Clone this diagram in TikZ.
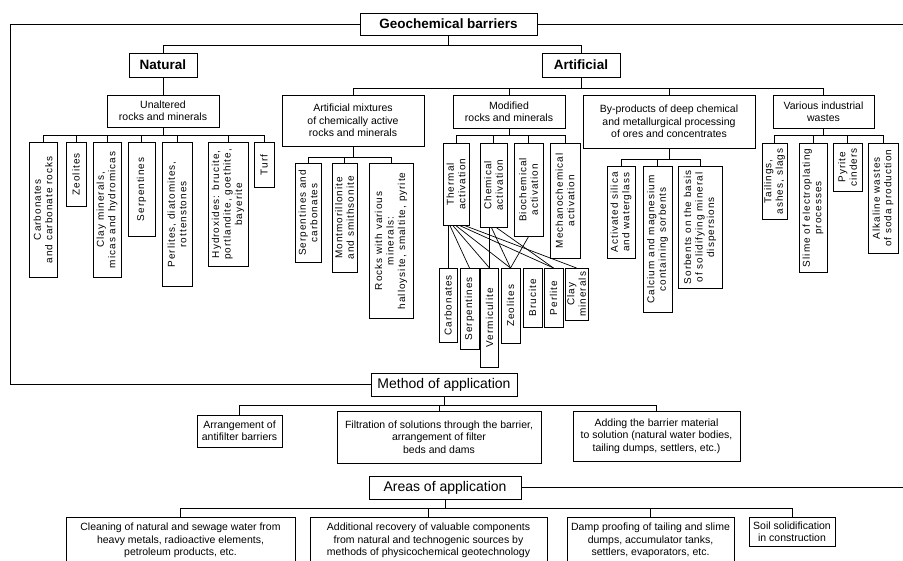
\documentclass[tikz,border=0pt]{standalone}
\usepackage{fontspec}
\setmainfont{Liberation Sans}
\newfontfamily\spaced[LetterSpace=10]{Liberation Sans}
\tikzstyle{frame} = [draw, align=center, inner sep=1pt, font=\fontsize{10.5}{12.5}\selectfont]
\tikzstyle{title} = [draw, inner sep=1pt, font=\bfseries\fontsize{13.5}{16}\selectfont]
\tikzstyle{plain} = [draw, inner sep=1pt, font=\fontsize{14}{16}\selectfont]
\tikzstyle{vcell} = [draw, rotate=90, anchor=east, align=center, inner sep=1pt, font=\spaced\fontsize{10}{11.5}\selectfont]
\tikzstyle{cut} = [draw, anchor=north, align=center, inner xsep=2pt, inner ysep=6pt, font=\fontsize{10.5}{12.5}\selectfont]

\begin{document}
\begin{tikzpicture}[x=1pt, y=-1pt, line width=0.7pt]
\useasboundingbox (0,0) rectangle (903,561);
\clip (0,0) rectangle (903,561);

\node[title, minimum width=177pt, minimum height=22pt] (geo) at (448.5,24) {Geochemical barriers};
\node[title, minimum width=68pt, minimum height=24pt] (nat) at (163,65) {Natural};
\node[title, minimum width=78pt, minimum height=24pt] (art) at (581,65) {Artificial};

\node[frame, minimum width=112pt, minimum height=32pt] (unalt) at (163,111) {Unaltered\\rocks and minerals};
\node[frame, minimum width=142pt, minimum height=51pt] (mix) at (353,120.5) {Artificial mixtures\\of chemically active\\rocks and minerals};
\node[frame, minimum width=112pt, minimum height=33pt] (mod) at (509,111.5) {Modified\\rocks and minerals};
\node[frame, minimum width=172pt, minimum height=53pt] (byp) at (669,121.5) {By-products of deep chemical\\and metallurgical processing\\of ores and concentrates};
\node[frame, minimum width=101pt, minimum height=33pt] (var) at (823.5,111.5) {Various industrial\\wastes};

% natural
\node[vcell, minimum width=135pt, minimum height=28pt] (carb1) at (43,142) {Carbonates\\and carbonate rocks};
\node[vcell, minimum width=64pt, minimum height=20pt] (zeo1) at (76,142) {Zeolites};
\node[vcell, minimum width=135pt, minimum height=28pt] (clay1) at (107,142) {Clay minerals,\\micas and hydromicas};
\node[vcell, minimum width=94pt, minimum height=27pt] (serp1) at (141.5,142) {Serpentines};
\node[vcell, minimum width=144pt, minimum height=30pt] (perl1) at (177,142) {Perlites, diatomites,\\rottenstones};
\node[vcell, minimum width=124pt, minimum height=40pt] (hydr) at (228,142) {Hydroxides: brucite,\\portlandite, goethite,\\bayerite};
\node[vcell, minimum width=45pt, minimum height=20pt] (turf) at (264,142) {Turf};

% artificial mixtures
\node[vcell, minimum width=99pt, minimum height=26pt] (serp2) at (308,163) {Serpentines and\\carbonates};
\node[vcell, minimum width=109pt, minimum height=25pt] (mont) at (344.5,163) {Montmorillonite\\and smithsonite};
\node[vcell, minimum width=155pt, minimum height=44pt] (rocks) at (391,163) {Rocks with various\\minerals:\\halloysite, smaltite, pyrite};

% modified
\node[vcell, minimum width=82pt, minimum height=26pt] (therm) at (456,143) {Thermal\\activation};
\node[vcell, minimum width=84pt, minimum height=27pt] (chem) at (493.5,143) {Chemical\\activation};
\node[vcell, minimum width=93pt, minimum height=29pt] (bio) at (528.5,143) {Biochemical\\activation};
\node[vcell, minimum width=115pt, minimum height=30pt] (mech) at (565,143) {Mechanochemical\\activation};

\node[vcell, minimum width=74pt, minimum height=18pt] (carb2) at (448,268) {Carbonates};
\node[vcell, minimum width=81pt, minimum height=19pt] (serp3) at (469.5,268) {Serpentines};
\node[vcell, minimum width=99pt, minimum height=18pt] (verm) at (489.5,268) {Vermiculite};
\node[vcell, minimum width=75pt, minimum height=19pt] (zeo2) at (510.5,268) {Zeolites};
\node[vcell, minimum width=59pt, minimum height=19pt] (bruc) at (532.5,268) {Brucite};
\node[vcell, minimum width=59pt, minimum height=19pt] (perl2) at (553.5,268) {Perlite};
\node[vcell, minimum width=52pt, minimum height=23pt] (clay2) at (576.5,268) {Clay\\minerals};

% by-products
\node[vcell, minimum width=92pt, minimum height=28pt] (silica) at (621,166) {Activated silica\\and waterglass};
\node[vcell, minimum width=146pt, minimum height=29pt] (calc) at (657.5,166) {Calcium and magnesium\\containing sorbents};
\node[vcell, minimum width=122pt, minimum height=44pt] (sorb) at (700,166) {Sorbents on the basis\\of solidifying mineral\\dispersions};

% industrial wastes
\node[vcell, minimum width=76pt, minimum height=25pt] (tail) at (774.5,143) {Tailings,\\ashes, slags};
\node[vcell, minimum width=129pt, minimum height=28pt] (slime) at (813,143) {Slime of electroplating\\processes};
\node[vcell, minimum width=48pt, minimum height=29pt] (pyr) at (847.5,143) {Pyrite\\cinders};
\node[vcell, minimum width=110pt, minimum height=30pt] (alk) at (883,143) {Alkaline wastes\\of soda production};

% method of application
\node[plain, minimum width=146pt, minimum height=23pt] (method) at (444,384.5) {Method of application};
\node[frame, minimum width=85pt, minimum height=32pt] (arr) at (239.5,431) {Arrangement of\\antifilter barriers};
\node[frame, minimum width=204pt, minimum height=52pt] (filt) at (439,437) {Filtration of solutions through the barrier,\\arrangement of filter\\beds and dams};
\node[frame, minimum width=167pt, minimum height=50pt] (add) at (656.5,436) {Adding the barrier material\\to solution (natural water bodies,\\tailing dumps, settlers, etc.)};

% areas of application
\node[plain, minimum width=152pt, minimum height=23pt] (areas) at (445,487.5) {Areas of application};
\node[cut, minimum width=229pt] (clean) at (180.5,517) {Cleaning of natural and sewage water from\\heavy metals, radioactive elements,\\petroleum products, etc.};
\node[cut, minimum width=237pt] (addrec) at (428.5,517) {Additional recovery of valuable components\\from natural and technogenic sources by\\methods of physicochemical geotechnology};
\node[cut, minimum width=167pt] (damp) at (650.5,517) {Damp proofing of tailing and slime\\dumps, accumulator tanks,\\settlers, evaporators, etc.};
\node[frame, anchor=north, minimum width=86pt, minimum height=29pt] (soil) at (792,517) {Soil solidification\\in construction};

\coordinate (lft) at (10,24);
\coordinate (rgt) at (903,24);
\draw (geo.west) -- (lft) |- (method.west);
\draw (geo.east) -- (rgt);
\draw (areas.east) -- (areas.east -| rgt);

\foreach \c in {nat,art} \draw (geo.south) -- ++(0,10) -| (\c.north);
\draw (nat) -- (unalt);
\foreach \c in {mix,mod,byp,var} \draw (art.south) -- ++(0,11) -| (\c.north);
\foreach \c in {carb1,zeo1,clay1,serp1,perl1,hydr,turf} \draw (unalt.south) -- ++(0,8) -| (\c.east);
\foreach \c in {serp2,mont,rocks} \draw (mix.south) -- ++(0,11) -| (\c.east);
\foreach \c in {therm,chem,bio,mech} \draw (mod.south) -- ++(0,7) -| (\c.east);
\foreach \c in {silica,calc,sorb} \draw (byp.south) -- ++(0,11) -| (\c.east);
\foreach \c in {tail,slime,pyr,alk} \draw (var.south) -- ++(0,7) -| (\c.east);
\foreach \c in {arr,filt,add} \draw (method.south) -- ++(0,9) -| (\c.north);
\foreach \c in {clean,addrec,damp,soil} \draw (areas.south) -- ++(0,9) -| (\c.north);

% activation links
\draw (therm.west -| carb2.east) -- (carb2.east);
\draw ([xshift=-6pt]therm.west) -- (serp3.east);
\draw ([xshift=-3pt]therm.west) -- (verm.east);
\draw (therm.west) -- (zeo2.east);
\draw ([xshift=4pt]therm.west) -- (perl2.east);
\draw ([xshift=9pt]therm.west) -- (clay2.east);
\draw (chem.west -| verm.east) -- (verm.east);
\draw ([xshift=-2pt]chem.west) -- (zeo2.east);
\draw ([xshift=3pt]chem.west) -- (perl2.east);
\draw (bio.west) -- (zeo2.east);
\end{tikzpicture}
\end{document}
